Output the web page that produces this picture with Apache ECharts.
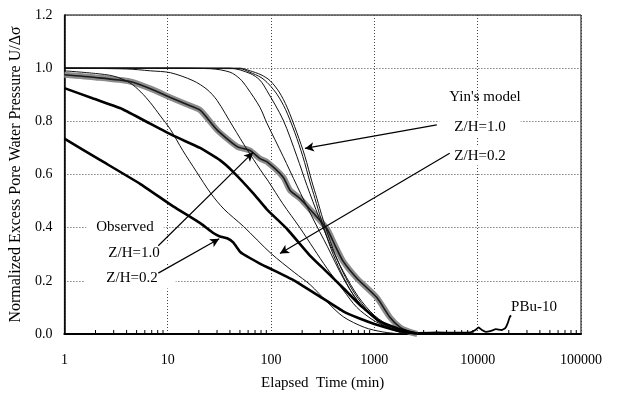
<!DOCTYPE html>
<html>
<head>
<meta charset="utf-8">
<script src="https://cdn.jsdelivr.net/npm/echarts@6/dist/echarts.min.js"></script>
<style>
  html, body { margin: 0; padding: 0; background: #fff; }
  #chart { width: 617px; height: 396px; }
</style>
</head>
<body>
<div id="chart"></div>
<script>
// Elapsed time (min) vs normalized excess pore water pressure U/Δσ

// x-axis decades and the in-between minor tick multipliers
const decades = [1, 10, 100, 1000, 10000];
const minorMultipliers = [2, 3, 4, 5, 6, 7, 8, 9];

// Yin's model curves at several depths [time, U/Δσ]
const yinZH02 = [[1,0.99],[2,0.98],[3,0.97],[4.3,0.945],[5.5,0.91],[6.8,0.87],[8.5,0.82],[10.6,0.77],[14,0.69],[19,0.61],[26,0.53],[35,0.47],[54,0.405],[100,0.303],[170,0.23],[240,0.185],[350,0.12],[500,0.065],[800,0.025],[1200,0.008],[1800,0]];
const yinZH04 = [[1,1.0],[4,0.997],[6.8,0.99],[10.6,0.983],[17.6,0.953],[24,0.92],[30,0.879],[43,0.779],[58.6,0.694],[78,0.62],[94,0.575],[130,0.49],[190,0.4],[260,0.32],[348,0.247],[500,0.165],[677,0.1],[950,0.055],[1320,0.026],[1800,0.005],[2200,0]];
const yinZH06 = [[1,1.0],[10,1.0],[25.8,0.998],[40,0.985],[50,0.96],[58.6,0.927],[78,0.853],[91,0.794],[131,0.668],[178,0.558],[250,0.44],[350,0.33],[500,0.21],[700,0.12],[1000,0.06],[1500,0.02],[2200,0]];
const yinZH08 = [[1,1.0],[40,1.0],[62.7,0.98],[78,0.955],[91,0.916],[131,0.805],[178,0.668],[223,0.558],[290,0.44],[380,0.33],[500,0.235],[700,0.14],[1000,0.07],[1500,0.025],[2300,0]];
const yinZH09 = [[1,1.0],[50,0.998],[62,0.985],[80,0.965],[95,0.94],[115,0.9],[138,0.845],[170,0.757],[203,0.668],[238,0.572],[266,0.51],[305,0.432],[380,0.321],[475,0.233],[620,0.15],[870,0.08],[1250,0.03],[1800,0.008],[2400,0]];
const yinZH10 = [[1,1.0],[50,1.0],[62.7,0.99],[80,0.975],[97.8,0.953],[120,0.91],[143,0.853],[178,0.757],[213,0.668],[249,0.572],[278,0.51],[318,0.432],[397,0.321],[496,0.233],[650,0.15],[900,0.08],[1300,0.03],[1900,0.008],[2500,0]];

// Observed records
const obsBand = [[1,0.975],[2,0.965],[4.3,0.95],[6.8,0.923],[10.6,0.89],[15,0.865],[20.6,0.842],[30,0.768],[47,0.705],[62.7,0.69],[78,0.66],[91,0.648],[131,0.59],[153,0.54],[190,0.51],[238,0.469],[348,0.395],[420,0.33],[496,0.275],[677,0.21],[1057,0.137],[1413,0.063],[1763,0.026],[2200,0.008],[2600,0]];
const obsZH10 = [[1,0.925],[1.9,0.886],[3.5,0.849],[5.8,0.805],[11.3,0.746],[20.6,0.70],[32,0.654],[43,0.61],[67,0.53],[91,0.469],[143,0.395],[238,0.295],[348,0.233],[496,0.174],[718,0.111],[1122,0.048],[1763,0.018],[2500,0.003]];
const obsZH02 = [[1,0.735],[2.23,0.654],[5.4,0.565],[11.3,0.48],[20.6,0.417],[27.6,0.38],[32,0.367],[37.6,0.36],[43,0.345],[50,0.31],[54,0.3],[78,0.265],[91,0.252],[143,0.215],[170,0.2],[300,0.14],[500,0.085],[700,0.06],[1000,0.038],[1800,0.01],[2600,0.002]];
const obsLate = [[2600,0.004],[4000,0.006],[6000,0.005],[8500,0.006],[9500,0.015],[10200,0.025],[11000,0.015],[12000,0.008],[13500,0.012],[15000,0.018],[17000,0.015],[18500,0.022],[19500,0.04],[20400,0.063],[21000,0.07]];

const SERIF = '"Liberation Serif", "Times New Roman", serif';

const minorTicks = [];
decades.forEach(d => minorMultipliers.forEach(m => minorTicks.push([d * m, 0])));

function thin(name, data) {
  return { name, type: 'line', data, showSymbol: false, smooth: 0.3,
    lineStyle: { color: '#111', width: 1 }, z: 3, silent: true };
}
function thick(name, data, w) {
  return { name, type: 'line', data, showSymbol: false, smooth: 0.12,
    lineStyle: { color: '#000', width: w }, z: 4, silent: true };
}

const chart = echarts.init(document.getElementById('chart'), null, { renderer: 'canvas' });

const arrows = [
  [{ coord: [4018, 0.787] }, { coord: [213, 0.698] }],
  [{ coord: [5360, 0.68] }, { coord: [122, 0.303] }],
  [{ coord: [8.1, 0.332] }, { coord: [67, 0.683] }],
  [{ coord: [8.1, 0.229] }, { coord: [31.5, 0.358] }]
];

function label(text, x, y, pad) {
  return { type: 'text', x, y, z: 1,
    style: { text, font: '15px ' + SERIF, fill: '#000', align: 'center', verticalAlign: 'middle',
      backgroundColor: pad ? '#fff' : null, padding: pad || 0 } };
}

chart.setOption({
  animation: false,
  backgroundColor: '#fff',
  grid: { left: 64, right: 36, top: 15, bottom: 56, show: true, borderColor: '#000', borderWidth: 1 },
  xAxis: {
    type: 'log', logBase: 10, min: 1, max: 100000,
    name: 'Elapsed  Time (min)', nameLocation: 'middle', nameGap: 42,
    nameTextStyle: { fontFamily: SERIF, fontSize: 15, color: '#000' },
    axisLine: { lineStyle: { color: '#000', width: 2 } },
    axisTick: { show: false },
    axisLabel: { fontFamily: SERIF, fontSize: 14, color: '#000', margin: 19, formatter: v => String(v) },
    splitLine: { show: true, lineStyle: { color: '#444', width: 1, type: [1, 2] } }
  },
  yAxis: {
    type: 'value', min: 0, max: 1.2, interval: 0.2,
    name: 'Normalized Excess Pore Water Pressure U/Δσ', nameLocation: 'middle', nameGap: 38,
    nameTextStyle: { fontFamily: SERIF, fontSize: 16, color: '#000' },
    axisLine: { show: true, lineStyle: { color: '#000', width: 1.5 } },
    axisTick: { show: false },
    axisLabel: { fontFamily: SERIF, fontSize: 14, color: '#000', margin: 12, formatter: v => v.toFixed(1) },
    splitLine: { show: true, lineStyle: { color: '#444', width: 1, type: [1, 2] } }
  },
  series: [
    { name: 'band', type: 'line', data: obsBand, showSymbol: false, smooth: 0.2,
      lineStyle: { color: '#8c8c8c', width: 6 }, z: 2, silent: true },
    thin('Yin Z/H=0.2', yinZH02),
    thin('Yin Z/H=0.4', yinZH04),
    thin('Yin Z/H=0.6', yinZH06),
    thin('Yin Z/H=0.8', yinZH08),
    thin('Yin Z/H=0.9', yinZH09),
    thin('Yin Z/H=1.0', yinZH10),
    { name: 'band core', type: 'line', data: obsBand, showSymbol: false, smooth: 0.2,
      lineStyle: { color: '#1a1a1a', width: 1.6 }, z: 3, silent: true },
    thick('Observed Z/H=1.0', obsZH10, 2.6),
    thick('Observed Z/H=0.2', obsZH02, 2.6),
    Object.assign(thick('PBu-10 late', obsLate, 1.8), {
      markLine: {
        silent: true, symbol: ['none', 'arrow'], symbolSize: [7, 9],
        lineStyle: { color: '#000', width: 1.2, type: 'solid' },
        label: { show: false }, data: arrows
      }
    }),
    { name: 'minor ticks', type: 'custom', data: minorTicks, silent: true, z: 5,
      renderItem: (params, api) => {
        const p = api.coord([api.value(0), 0]);
        return { type: 'line', shape: { x1: p[0], y1: p[1], x2: p[0], y2: p[1] - 4 },
          style: { stroke: '#000', lineWidth: 1 } };
      } }
  ],
  graphic: [
    label("Yin's model", 485, 97),
    label('Z/H=1.0', 480, 127, [2, 15]),
    label('Z/H=0.2', 480, 156, [2, 6]),
    label('Observed', 125, 227, [2, 10]),
    label('Z/H=1.0', 131, 253, [2, 16, 2, 22]),
    label('Z/H=0.2', 130, 278, [3, 18, 3, 22]),
    label('PBu-10', 534, 307)
  ]
});
</script>
</body>
</html>
